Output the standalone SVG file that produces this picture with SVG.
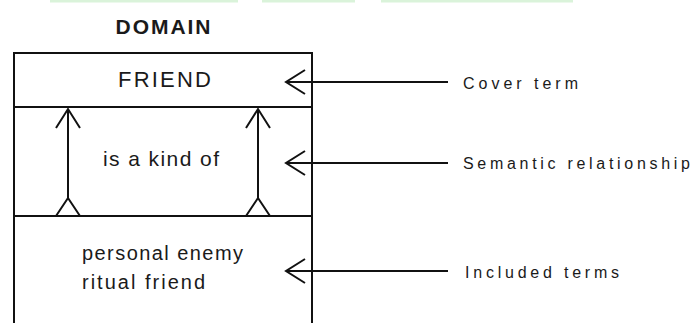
<svg xmlns="http://www.w3.org/2000/svg" width="691" height="323" viewBox="0 0 691 323">
  <style>
    .frame { fill: none; stroke: #111; stroke-width: 2; }
    .link { fill: none; stroke: #111; stroke-width: 2; stroke-linejoin: miter; }
    .head { fill: none; stroke: #111; stroke-width: 2; }
    .box-text { font-family: "Liberation Sans", Arial, sans-serif; fill: #1a1a1a; }
    .label { font-family: "Liberation Sans", Arial, sans-serif; font-size: 16px; fill: #1a1a1a; }
    .band { fill: #daf3da; }
  </style>

  <!-- faint strip along the top edge -->
  <g id="top-strip">
    <rect class="band" x="50" y="0" width="188" height="2.5"/>
    <rect class="band" x="262" y="0" width="93" height="2.5"/>
    <rect class="band" x="381" y="0" width="192" height="2.5"/>
  </g>

  <text id="title" class="box-text" x="163" y="34" text-anchor="middle" font-size="21" font-weight="bold" textLength="95" lengthAdjust="spacing">DOMAIN</text>

  <!-- domain frame with three compartments; open at the bottom -->
  <g id="domain-frame">
    <path class="frame" d="M14,323 V53 H312 V323"/>
    <line class="frame" x1="14" y1="107" x2="312" y2="107"/>
    <line class="frame" x1="14" y1="216" x2="312" y2="216"/>
  </g>

  <g id="cover-term">
    <text class="box-text" x="118" y="87" font-size="22" textLength="93" lengthAdjust="spacing">FRIEND</text>
  </g>

  <g id="semantic-relationship">
    <text class="box-text" x="103" y="166" font-size="21" textLength="116" lengthAdjust="spacing">is a kind of</text>
  </g>

  <g id="included-terms">
    <text class="box-text" x="82" y="260" font-size="20" textLength="161" lengthAdjust="spacing">personal enemy</text>
    <text class="box-text" x="82" y="289" font-size="20" textLength="123" lengthAdjust="spacing">ritual friend</text>
  </g>

  <g id="legend">
    <text class="label" x="463" y="89" textLength="115" lengthAdjust="spacing">Cover term</text>
    <text class="label" x="463" y="169" textLength="227" lengthAdjust="spacing">Semantic relationship</text>
    <text class="label" x="465" y="278" textLength="154" lengthAdjust="spacing">Included terms</text>
  </g>

  <g id="connectors">
    <!-- "is a kind of" arrows from included terms up to the cover term -->
    <line class="link" x1="68" y1="109" x2="68" y2="198"/>
    <path class="head" d="M56,128 L68,109 L80,128"/>
    <path class="head" d="M56,216 L68,198 L80,216"/>
    <line class="link" x1="258" y1="109" x2="258" y2="198"/>
    <path class="head" d="M246,128 L258,109 L270,128"/>
    <path class="head" d="M246,216 L258,198 L270,216"/>

    <!-- pointers from the legend into each compartment -->
    <line class="link" x1="286" y1="82" x2="448" y2="82"/>
    <path class="head" d="M305,70 L286,82 L305,94"/>
    <line class="link" x1="286" y1="163" x2="448" y2="163"/>
    <path class="head" d="M305,151 L286,163 L305,175"/>
    <line class="link" x1="286" y1="271" x2="448" y2="271"/>
    <path class="head" d="M305,259 L286,271 L305,283"/>
  </g>
</svg>
